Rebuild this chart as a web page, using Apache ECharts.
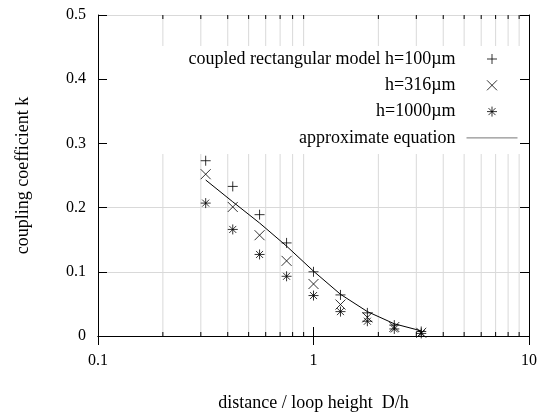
<!DOCTYPE html>
<html><head><meta charset="utf-8">
<script src="https://cdn.jsdelivr.net/npm/echarts@6/dist/echarts.min.js"></script>
<style>html,body{margin:0;padding:0;background:#fff}#c{width:542px;height:414px}</style>
</head><body><div id="c"></div>
<script>
const dist = [0.316, 0.422, 0.562, 0.75, 1, 1.334, 1.778, 2.371, 3.162];
const k100 = [0.273, 0.233, 0.189, 0.145, 0.100, 0.064, 0.036, 0.017, 0.007];
const k316 = [0.252, 0.201, 0.157, 0.117, 0.081, 0.049, 0.029, 0.014, 0.005];
const k1000 = [0.207, 0.166, 0.127, 0.093, 0.063, 0.038, 0.023, 0.011, 0.004];
const kApprox = [0.243, 0.209, 0.176, 0.140, 0.101, 0.065, 0.038, 0.019, 0.008];
const xTicks = ['0.1', '1', '10'];
const xMinorTicks = [0.2, 0.3, 0.4, 0.5, 0.6, 0.7, 0.8, 0.9, 2, 3, 4, 5, 6, 7, 8, 9];
const yTicks = ['0', '0.1', '0.2', '0.3', '0.4', '0.5'];
const names = ['coupled rectangular model h=100\u00b5m', 'h=316\u00b5m', 'h=1000\u00b5m', 'approximate equation'];

const font = 'Liberation Serif';
const pts = (ys) => dist.map((x, i) => [x, ys[i]]);
const symPlus = 'path://M0,5L10,5M5,0L5,10';
const symX = 'path://M0,0L10,10M10,0L0,10';
const symStar = 'path://M0,5L10,5M5,0L5,10M1.5,1.5L8.5,8.5M8.5,1.5L1.5,8.5';

function scatter(name, ys, sym) {
  return {
    name, type: 'scatter', data: pts(ys), symbol: sym, symbolSize: 10,
    xAxisIndex: 0, yAxisIndex: 0, z: 3,
    itemStyle: { color: '#000', borderColor: '#000', borderWidth: 1 },
    emphasis: { disabled: true }
  };
}
const chart = echarts.init(document.getElementById('c'));
const logX = (pos, extra) => Object.assign({
  type: 'log', logBase: 10, min: 0.1, max: 10, position: pos,
  axisLine: { show: true, lineStyle: { color: '#000', width: 1 } },
  axisTick: { show: true, inside: true, length: 9, lineStyle: { color: '#000' } },
  minorTick: { show: false },
  splitLine: { show: false },
  axisLabel: { show: false }, z: 10
}, extra);
const valY = (pos, extra) => Object.assign({
  type: 'value', min: 0, max: 0.5, interval: 0.1, position: pos,
  axisLine: { show: true, lineStyle: { color: '#000', width: 1 } },
  axisTick: { show: true, inside: true, length: 9, lineStyle: { color: '#000' } },
  splitLine: { show: false },
  axisLabel: { show: false }, z: 10
}, extra);

chart.setOption({
  animation: false,
  grid: { left: 98, top: 15, right: 13, bottom: 78, containLabel: false, outerBoundsMode: 'none' },
  legend: {
    orient: 'vertical', align: 'right', right: 16, top: 46,
    padding: [4, 8, 7, 92], backgroundColor: '#fff', z: 4,
    itemWidth: 51, itemHeight: 10, itemGap: 8.3,
    textStyle: { fontFamily: font, fontSize: 18, color: '#000', lineHeight: 18, padding: [0, 6, 0, 0] },
    itemStyle: { borderWidth: 1 },
    selectedMode: false,
    data: [
      names[0], names[1], names[2],
      { name: names[3], itemStyle: { opacity: 0, borderWidth: 0 }, lineStyle: { color: '#777', width: 1 } }
    ]
  },
  xAxis: [
    logX('bottom', {
      axisLabel: { show: true, fontFamily: font, fontSize: 16, color: '#000', margin: 17,
        formatter: (v) => { const s = String(+v.toPrecision(3)); return xTicks.includes(s) ? s : ''; } },
      name: 'distance / loop height  D/h', nameLocation: 'middle', nameGap: 58,
      nameTextStyle: { fontFamily: font, fontSize: 18, color: '#000' }
    }),
    logX('top')
  ],
  yAxis: [
    valY('left', {
      axisLabel: { show: true, fontFamily: font, fontSize: 16, color: '#000', margin: 12,
        formatter: (v) => yTicks[Math.round(v * 10)] },
      name: 'coupling coefficient k', nameLocation: 'middle', nameGap: 66, nameRotate: 90,
      nameTextStyle: { fontFamily: font, fontSize: 18, color: '#000' }
    }),
    valY('right'),
    valY('left', { axisLine: { show: false }, axisTick: { show: false },
      splitLine: { show: true, lineStyle: { color: '#d9d9d9', width: 1 } }, z: 0 })
  ],
  series: [
    {
      type: 'custom', xAxisIndex: 0, yAxisIndex: 0, z: 1, silent: true,
      data: xMinorTicks.map(v => [v, 0]),
      renderItem: (params, api) => {
        const x = api.value(0);
        const b = api.coord([x, 0]);
        const t = api.coord([x, 0.5]);
        return { type: 'group', children: [
          { type: 'line', shape: { x1: b[0], y1: b[1], x2: t[0], y2: t[1] }, style: { stroke: '#d9d9d9', lineWidth: 1 } },
          { type: 'line', shape: { x1: b[0], y1: b[1], x2: b[0], y2: b[1] - 4 }, style: { stroke: '#000', lineWidth: 1 } },
          { type: 'line', shape: { x1: t[0], y1: t[1], x2: t[0], y2: t[1] + 4 }, style: { stroke: '#000', lineWidth: 1 } }
        ] };
      }
    },
    scatter(names[0], k100, symPlus),
    scatter(names[1], k316, symX),
    scatter(names[2], k1000, symStar),
    {
      name: names[3], type: 'line', data: pts(kApprox), symbol: 'none', showSymbol: false,
      xAxisIndex: 0, yAxisIndex: 0, z: 3,
      lineStyle: { color: '#000', width: 1 }, itemStyle: { color: '#000' },
      emphasis: { disabled: true }
    }
  ]
});
</script></body></html>
